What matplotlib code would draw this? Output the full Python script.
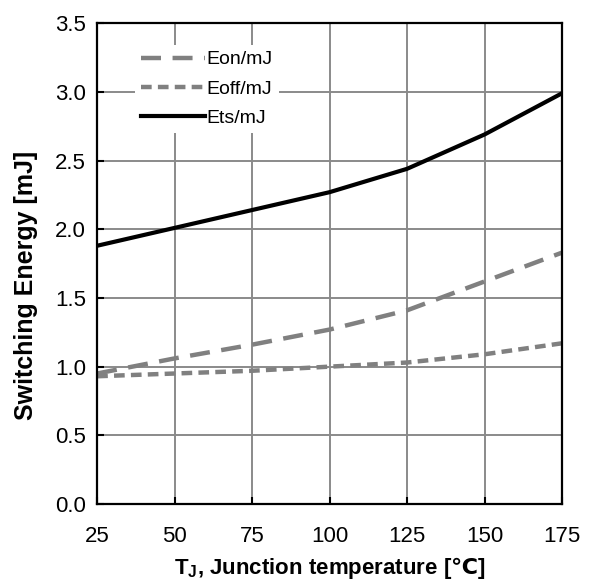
import matplotlib
matplotlib.use("Agg")
import matplotlib.pyplot as plt

temps = [25, 50, 75, 100, 125, 150, 175]
eon = [0.95, 1.06, 1.16, 1.27, 1.41, 1.62, 1.83]
eoff = [0.93, 0.95, 0.97, 1.00, 1.03, 1.09, 1.17]
ets = [1.88, 2.01, 2.14, 2.27, 2.44, 2.69, 2.99]

xticks = [25, 50, 75, 100, 125, 150, 175]
yticks = [0.0, 0.5, 1.0, 1.5, 2.0, 2.5, 3.0, 3.5]

plt.rcParams['font.family'] = ['Liberation Sans', 'DejaVu Sans']
plt.rcParams['mathtext.fontset'] = 'custom'
plt.rcParams['mathtext.rm'] = 'Liberation Sans:bold'
plt.rcParams['mathtext.it'] = 'Liberation Sans:bold'
plt.rcParams['mathtext.bf'] = 'Liberation Sans:bold'
plt.rcParams['mathtext.sf'] = 'DejaVu Sans:bold'

fig = plt.figure(figsize=(5.96, 5.80), dpi=100)
ax = fig.add_axes([0.163, 0.131, 0.780, 0.829])

gray = '#808080'
ax.plot(temps, eon, color=gray, lw=3.2, dashes=(4.5, 2.6), label='Eon/mJ')
ax.plot(temps, eoff, color=gray, lw=3.2, dashes=(2.4, 1.4), label='Eoff/mJ')
ax.plot(temps, ets, color='black', lw=3.0, label='Ets/mJ')

ax.set_xlim(25, 175)
ax.set_ylim(0, 3.5)
ax.set_xticks(xticks)
ax.set_yticks(yticks)
ax.set_xticklabels([str(t) for t in xticks])
ax.set_yticklabels([f"{v:.1f}" for v in yticks])
ax.grid(True, color='#8a8a8a', lw=1.4)
ax.set_axisbelow(True)
ax.tick_params(direction='in', length=5, width=1.5, labelsize=16, colors='black')
ax.tick_params(axis='x', pad=16)
ax.tick_params(axis='y', pad=8)
for s in ax.spines.values():
    s.set_linewidth(1.6)
    s.set_color('black')

ax.set_ylabel('Switching Energy [mJ]', fontsize=18, fontweight='bold')
ax.yaxis.set_label_coords(-0.128, 0.455)

ax.set_xlabel(r'T$_{\mathrm{J}}$, Junction temperature [$\mathsf{℃}$]', fontsize=16, fontweight='bold')
ax.xaxis.set_label_coords(0.5, -0.105)

leg = ax.legend(loc='upper left', bbox_to_anchor=(0.06, 0.975), fontsize=14,
                handlelength=3.3, handletextpad=0.1, labelspacing=0.6,
                frameon=True, fancybox=False, borderpad=0.3)
leg.get_frame().set_facecolor('white')
leg.get_frame().set_edgecolor('none')
leg.get_frame().set_alpha(1.0)

fig.savefig('out.png', dpi=100)
